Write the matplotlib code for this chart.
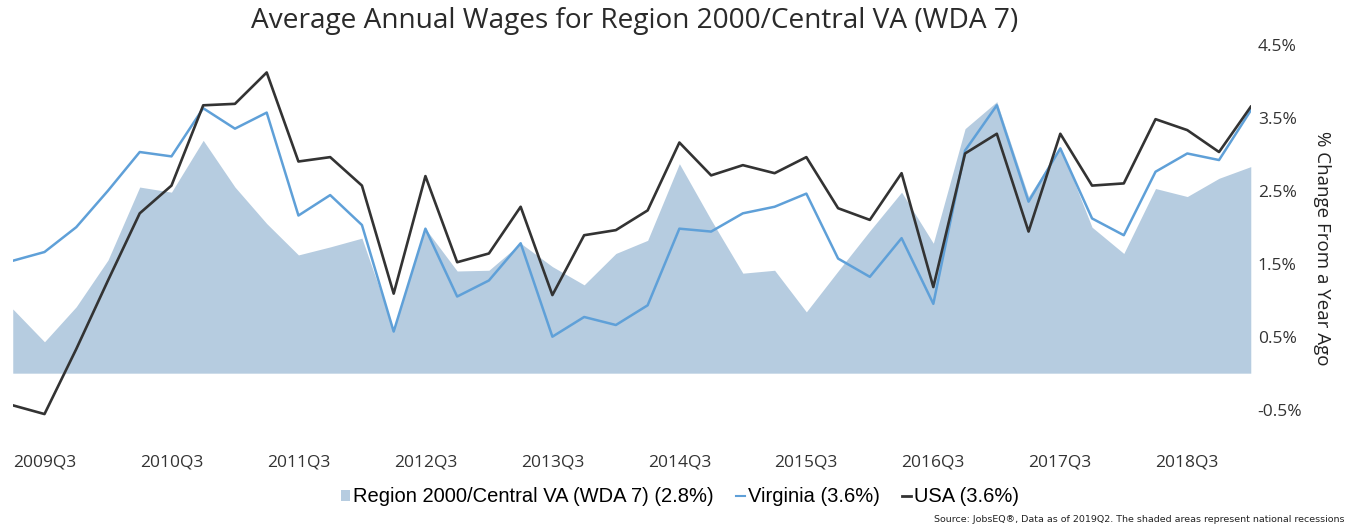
import matplotlib.pyplot as plt
from matplotlib.patches import Patch
from matplotlib.lines import Line2D

# quarters 2009Q3 .. 2019Q2
quarters = []
for y in range(2009, 2020):
    for q in range(1, 5):
        if (y, q) >= (2009, 3) and (y, q) <= (2019, 2):
            quarters.append(f"{y}Q{q}")

region = [0.88, 0.43, 0.91, 1.55, 2.55, 2.48, 3.19, 2.55, 2.05, 1.62,
          1.73, 1.85, 0.60, 1.98, 1.40, 1.41, 1.78, 1.46, 1.21, 1.64,
          1.82, 2.87, 2.10, 1.37, 1.41, 0.84, 1.40, 1.95, 2.48, 1.78,
          3.35, 3.72, 2.42, 3.10, 2.00, 1.64, 2.53, 2.42, 2.67, 2.83]
virginia = [1.54, 1.66, 2.00, 2.50, 3.03, 2.97, 3.63, 3.35, 3.57, 2.16,
            2.44, 2.03, 0.57, 1.98, 1.05, 1.27, 1.78, 0.50, 0.77, 0.66,
            0.93, 1.98, 1.94, 2.19, 2.28, 2.46, 1.57, 1.32, 1.85, 0.95,
            3.05, 3.67, 2.35, 3.08, 2.12, 1.89, 2.76, 3.01, 2.92, 3.60]
usa = [-0.44, -0.56, 0.33, 1.27, 2.19, 2.57, 3.67, 3.69, 4.12, 2.90,
       2.96, 2.57, 1.09, 2.70, 1.52, 1.64, 2.28, 1.07, 1.89, 1.96,
       2.23, 3.16, 2.71, 2.85, 2.74, 2.96, 2.26, 2.10, 2.74, 1.18,
       3.01, 3.28, 1.94, 3.28, 2.57, 2.60, 3.48, 3.33, 3.03, 3.65]

ytick_vals = [-0.5, 0.5, 1.5, 2.5, 3.5, 4.5]

fill_col = "#b6cce0"
va_col = "#5fa0d8"
usa_col = "#333333"

fig = plt.figure(figsize=(13.56, 5.27), dpi=100)
ax = fig.add_axes([0.0094, 0.188, 0.913, 0.741])

x = list(range(len(quarters)))
ax.fill_between(x, 0, region, color=fill_col, lw=0)
ax.plot(x, virginia, color=va_col, lw=1.8)
ax.plot(x, usa, color=usa_col, lw=1.9)

ax.set_xlim(0, len(quarters) - 1)
ax.set_ylim(-0.75, 4.6)

ax.set_xticks(x[::4])
ax.set_xticklabels(quarters[::4], ha="left", fontsize=12.5, color="#333333",
                   family="Open Sans")
ax.tick_params(axis="x", length=0, pad=19)

ax.yaxis.tick_right()
ax.set_yticks(ytick_vals)
ax.set_yticklabels([f"{v:.1f}%" for v in ytick_vals], fontsize=12.5,
                   color="#333333", family="Open Sans")
ax.tick_params(axis="y", length=0, pad=5)

for s in ax.spines.values():
    s.set_visible(False)

fig.text(1322 / 1356, 1 - 248 / 527, "% Change From a Year Ago", rotation=-90,
         ha="center", va="center", fontsize=13.5, color="#222222", family="Open Sans")

fig.text(635 / 1356, 1 - 21 / 527,
         "Average Annual Wages for Region 2000/Central VA (WDA 7)",
         ha="center", va="center", fontsize=20.2, color="#2a2a2a", family="Open Sans")

handles = [
    Patch(facecolor=fill_col, edgecolor="none"),
    Line2D([], [], color=va_col, lw=1.5),
    Line2D([], [], color=usa_col, lw=2),
]
labels = ["Region 2000/Central VA (WDA 7) (2.8%)", "Virginia (3.6%)", "USA (3.6%)"]
fig.legend(handles, labels, loc="center", bbox_to_anchor=(680 / 1356, 1 - 497 / 527),
           ncol=3, frameon=False, handlelength=0.45, handleheight=0.45,
           handletextpad=0.15, columnspacing=1.1,
           prop={"family": "Liberation Sans", "size": 14.5})

fig.text(1345 / 1356, 1 - 519 / 527,
         "Source: JobsEQ®, Data as of 2019Q2. The shaded areas represent national recessions",
         ha="right", va="center", fontsize=6.8, color="#222222")

fig.savefig("out.png", dpi=100)
